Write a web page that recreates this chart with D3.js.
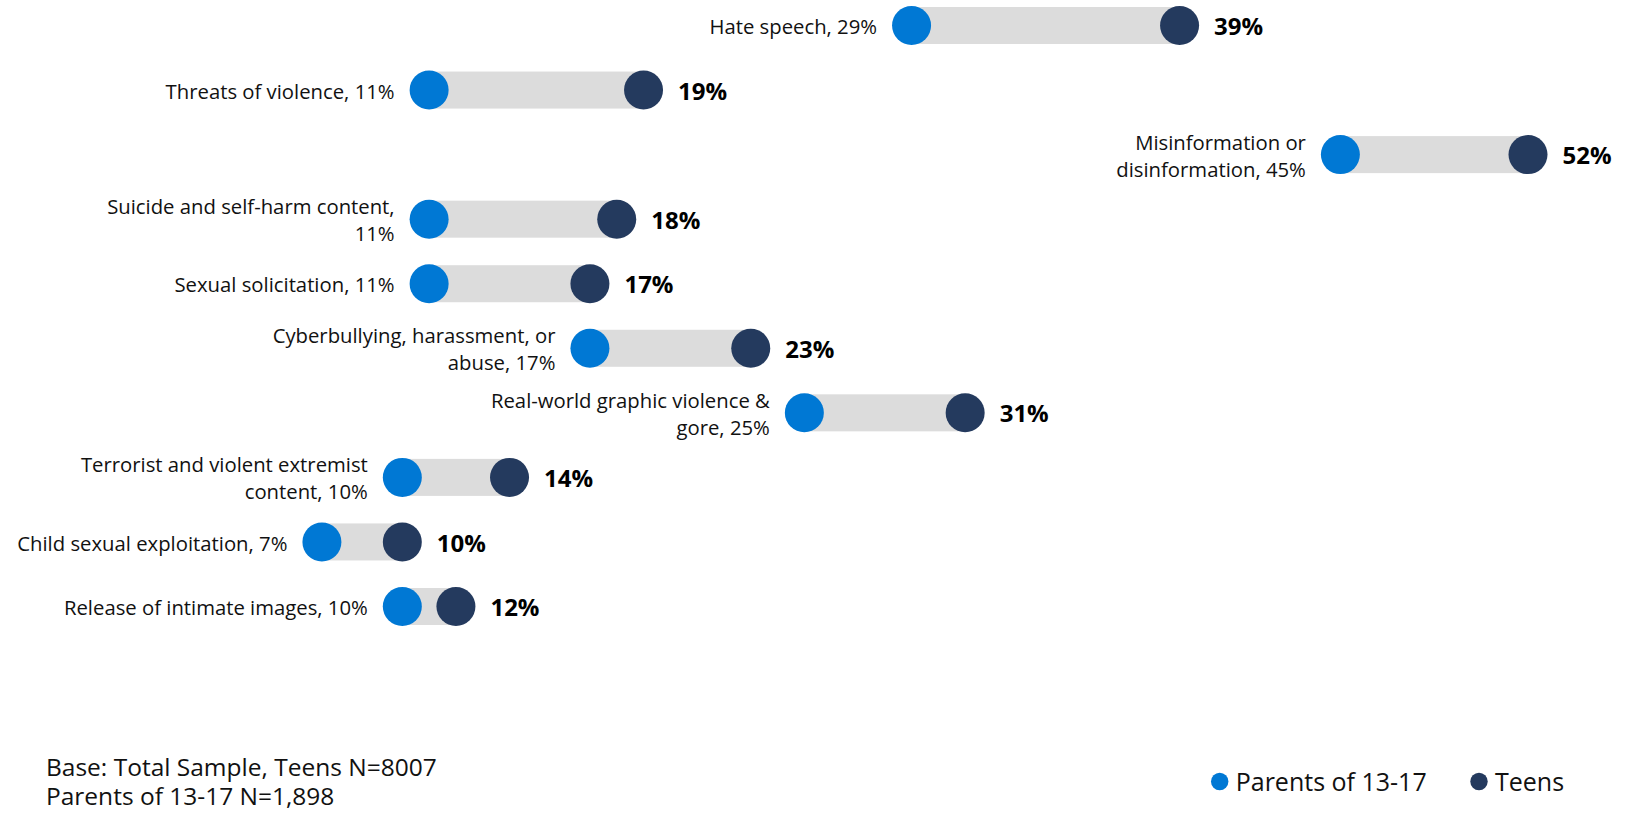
<!DOCTYPE html>
<html>
<head>
<meta charset="utf-8">
<script src="https://cdn.jsdelivr.net/npm/d3@7"></script>
<style>
  html, body { margin: 0; padding: 0; background: #ffffff; }
  svg { display: block; font-family: "Segoe UI", "Open Sans", "Noto Sans", sans-serif; }
</style>
</head>
<body>
<svg id="chart" width="1632" height="813"></svg>
<script>
// Harm categories, top to bottom
const categories = [
  "Hate speech",
  "Threats of violence",
  "Misinformation or disinformation",
  "Suicide and self-harm content",
  "Sexual solicitation",
  "Cyberbullying, harassment, or abuse",
  "Real-world graphic violence & gore",
  "Terrorist and violent extremist content",
  "Child sexual exploitation",
  "Release of intimate images"
];
// Percent of each group (values in %)
const parentValues = [29, 11, 45, 11, 11, 17, 25, 10, 7, 10];
const teenValues   = [39, 19, 52, 18, 17, 23, 31, 14, 10, 12];
// Number of words kept on the first line of a wrapped label (0 = single line)
const firstLineWords = [0, 0, 2, 4, 0, 3, 4, 4, 0, 0];

const seriesNames = ["Parents of 13-17", "Teens"];
const baseNote = ["Base: Total Sample, Teens N=8007", "Parents of 13-17 N=1,898"];

const colorParent = "#0078d4";
const colorTeen = "#243a5e";
const colorBar = "#dcdcdc";

const rows = categories.map((c, i) => ({
  category: c,
  parent: parentValues[i],
  teen: teenValues[i],
  split: firstLineWords[i]
}));

const svg = d3.select("#chart");

const x = d3.scaleLinear().domain([0, 52]).range([134.3, 1528]);
const y = d3.scalePoint().domain(categories).range([25.5, 606.5]);

const r = 19.5;
const barH = 37;

const row = svg.selectAll("g.row").data(rows).join("g")
  .attr("class", "row")
  .attr("transform", d => `translate(0,${y(d.category)})`);

// connecting bar between the two groups
row.append("rect")
  .attr("x", d => x(d.parent))
  .attr("y", -barH / 2)
  .attr("width", d => x(d.teen) - x(d.parent))
  .attr("height", barH)
  .attr("fill", colorBar);

row.append("circle")
  .attr("cx", d => x(d.parent))
  .attr("r", r)
  .attr("fill", colorParent);

row.append("circle")
  .attr("cx", d => x(d.teen))
  .attr("r", r)
  .attr("fill", colorTeen);

// category label with the parents' value, right-aligned before the first dot
row.each(function(d) {
  const full = `${d.category}, ${d.parent}%`;
  const words = full.split(" ");
  const lines = d.split ? [words.slice(0, d.split).join(" "), words.slice(d.split).join(" ")] : [full];
  const lh = 27;
  const t = d3.select(this).append("text")
    .attr("text-anchor", "end")
    .attr("font-size", 20.3)
    .attr("fill", "#111");
  lines.forEach((ln, k) => {
    t.append("tspan")
      .attr("x", x(d.parent) - r - 15)
      .attr("y", (k - (lines.length - 1) / 2) * lh + 1.5)
      .attr("dy", "0.35em")
      .text(ln);
  });
});

// teens' value, bold, after the second dot
row.append("text")
  .attr("x", d => x(d.teen) + r + 15)
  .attr("y", 1)
  .attr("dy", "0.36em")
  .attr("font-size", 24)
  .attr("font-weight", 700)
  .attr("fill", "#000")
  .text(d => `${d.teen}%`);

// base note, one text element per line
svg.selectAll("text.note").data(baseNote).join("text")
  .attr("class", "note")
  .attr("x", 46)
  .attr("y", (d, k) => 776 + k * 28.5)
  .attr("font-size", 24.5)
  .attr("fill", "#111")
  .text(d => d);

// legend
const legendItems = [
  { name: seriesNames[0], color: colorParent, cx: 1219.7 },
  { name: seriesNames[1], color: colorTeen, cx: 1479 }
];
const lg = svg.selectAll("g.legend").data(legendItems).join("g")
  .attr("class", "legend")
  .attr("transform", d => `translate(${d.cx},781.5)`);
lg.append("circle").attr("r", 8.7).attr("fill", d => d.color);
lg.append("text")
  .attr("x", 16)
  .attr("dy", "0.36em")
  .attr("font-size", 25)
  .attr("fill", "#111")
  .text(d => d.name);
</script>
</body>
</html>
